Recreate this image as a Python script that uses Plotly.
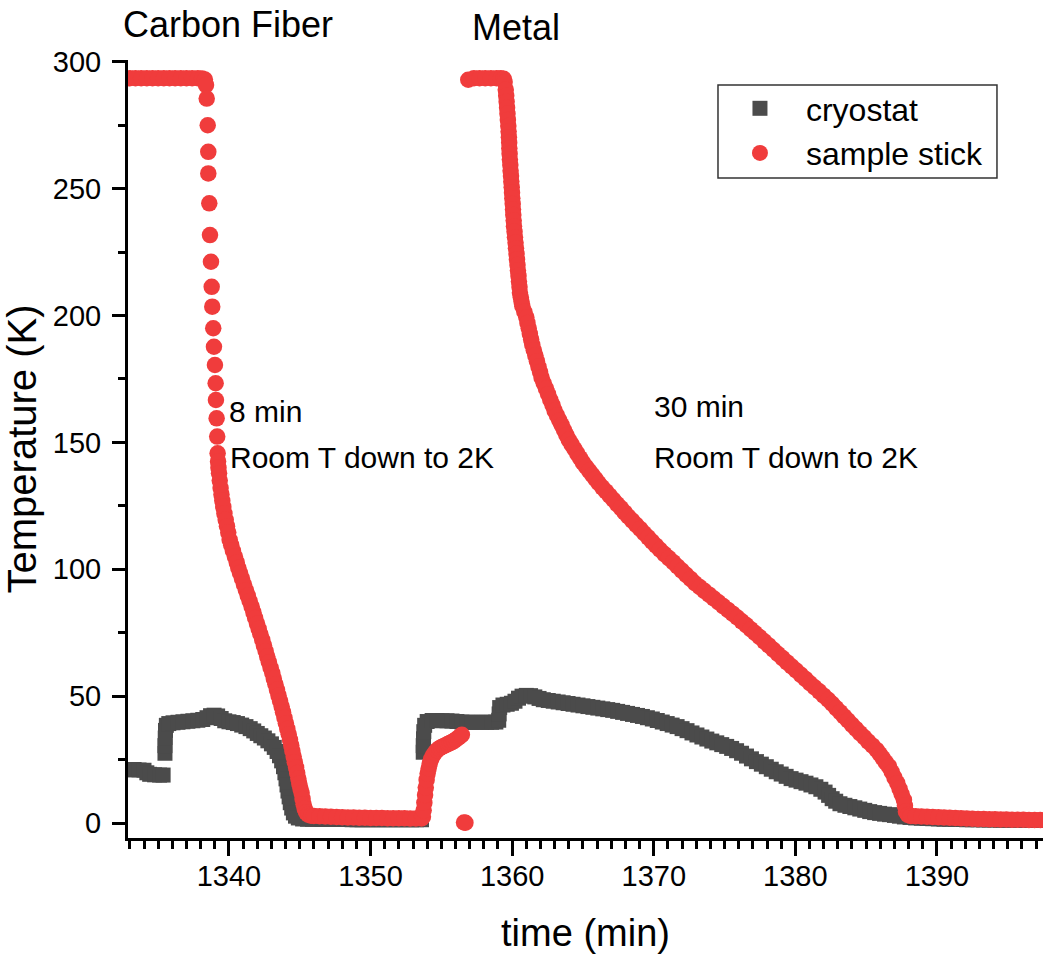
import plotly.graph_objects as go

# ---------------- data ----------------
# sample stick (red circles), in segments
red_cf_top_t = [1332.6, 1333.0, 1333.4, 1333.8, 1334.2, 1334.6, 1335.0, 1335.4, 1335.8, 1336.2,
                1336.6, 1337.0, 1337.4, 1337.8, 1338.1, 1338.3, 1338.38]
red_cf_top_T = [293.5, 293.5, 293.5, 293.5, 293.5, 293.5, 293.5, 293.5, 293.5, 293.5,
                293.5, 293.5, 293.5, 293.5, 293.4, 293.0, 290.8]

red_cf_dots_t = [1338.43, 1338.50, 1338.54, 1338.54, 1338.61, 1338.66, 1338.73, 1338.78, 1338.82,
                 1338.89, 1338.94, 1339.01, 1339.06, 1339.08, 1339.13, 1339.17, 1339.20]
red_cf_dots_T = [285.5, 275.0, 264.5, 256.0, 244.2, 231.7, 221.2, 211.3, 203.5,
                 195.0, 187.7, 180.5, 173.3, 166.7, 159.5, 152.3, 145.7]

red_cf_band_t = [1339.23, 1339.26, 1339.30, 1339.35, 1339.41, 1339.47, 1339.53, 1339.60, 1339.68,
                 1339.77, 1339.86, 1339.95, 1340.05, 1340.16, 1340.28, 1340.42, 1340.55, 1340.66,
                 1340.78, 1340.92, 1341.06, 1341.20, 1341.33, 1341.46, 1341.60, 1341.73, 1341.85,
                 1341.98, 1342.10, 1342.22, 1342.35, 1342.47, 1342.59, 1342.70, 1342.82, 1342.94,
                 1343.06, 1343.17, 1343.28, 1343.39, 1343.50, 1343.61, 1343.72, 1343.82, 1343.92,
                 1344.02, 1344.12, 1344.22, 1344.31, 1344.40, 1344.48, 1344.57, 1344.65, 1344.74,
                 1344.82, 1344.90, 1344.97, 1345.05, 1345.13, 1345.20, 1345.27, 1345.35, 1345.45,
                 1345.60, 1345.80]
red_cf_band_T = [142.5, 140.0, 137.8, 135.0, 132.0, 129.5, 127.0, 124.6, 122.0,
                 119.5, 117.0, 114.5, 111.6, 109.5, 107.3, 105.0, 102.7, 100.5,
                 98.5, 96.3, 94.0, 91.7, 89.6, 87.5, 85.3, 83.0, 80.8,
                 78.6, 76.5, 74.4, 72.2, 70.0, 67.8, 65.6, 63.4, 61.2,
                 59.1, 56.9, 54.7, 52.5, 50.3, 48.1, 45.9, 43.7, 41.5,
                 39.3, 37.1, 35.0, 32.8, 30.6, 28.4, 26.2, 24.0, 21.9,
                 19.7, 17.5, 15.5, 13.6, 11.8, 9.5, 7.4, 5.6, 4.2,
                 3.3, 2.9]

red_low_t = [1346.0, 1346.4, 1346.8, 1347.2, 1347.6, 1348.0, 1348.4, 1348.8, 1349.2, 1349.6,
             1350.0, 1350.4, 1350.8, 1351.2, 1351.6, 1352.0, 1352.4, 1352.8, 1353.2, 1353.6]
red_low_T = [2.8, 2.7, 2.6, 2.5, 2.4, 2.3, 2.2, 2.2, 2.1, 2.1,
             2.0, 2.0, 2.0, 1.9, 1.9, 1.9, 1.9, 1.8, 1.8, 1.8]

red_rise_t = [1353.70, 1353.75, 1353.80, 1353.85, 1353.90, 1353.96, 1354.03, 1354.10, 1354.18,
              1354.28, 1354.40, 1354.55, 1354.70, 1354.85, 1355.00, 1355.15, 1355.30, 1355.45,
              1355.60, 1355.75, 1355.90, 1356.05, 1356.20, 1356.35, 1356.45]
red_rise_T = [2.5, 5.0, 8.0, 11.0, 14.0, 17.0, 19.5, 21.5, 23.5,
              25.2, 26.6, 27.8, 28.7, 29.4, 29.9, 30.3, 30.7, 31.1,
              31.5, 31.9, 32.4, 33.0, 33.6, 34.3, 34.8]

red_zero_t = [1356.60, 1356.70]
red_zero_T = [0.2, 0.1]

red_mt_top_t = [1356.90, 1357.30, 1357.70, 1358.10, 1358.50, 1358.90, 1359.20, 1359.40, 1359.47]
red_mt_top_T = [292.9, 293.5, 293.5, 293.5, 293.5, 293.5, 293.5, 293.3, 292.0]

red_mt_drop_t = [1359.55, 1359.58, 1359.61, 1359.64, 1359.67, 1359.70, 1359.73, 1359.75, 1359.77,
                 1359.79, 1359.80, 1359.82, 1359.84, 1359.87, 1359.89, 1359.92, 1359.94, 1359.97,
                 1359.99, 1360.01, 1360.04, 1360.06, 1360.08, 1360.11, 1360.13, 1360.17, 1360.20,
                 1360.24, 1360.27, 1360.31, 1360.34, 1360.38, 1360.41, 1360.45, 1360.48, 1360.52,
                 1360.55, 1360.61, 1360.66, 1360.72, 1360.86, 1361.00, 1361.08, 1361.17, 1361.25,
                 1361.34, 1361.42, 1361.53, 1361.64, 1361.75, 1361.86, 1361.97, 1362.08, 1362.23,
                 1362.39, 1362.54, 1362.69, 1362.85, 1363.00, 1363.17, 1363.33, 1363.50, 1363.67,
                 1363.83, 1364.00, 1364.20, 1364.40, 1364.60, 1364.80, 1365.00, 1365.22, 1365.44,
                 1365.66, 1365.88, 1366.10, 1366.36, 1366.63, 1366.89, 1367.15, 1367.41, 1367.68,
                 1367.94, 1368.20, 1368.48, 1368.76, 1369.04, 1369.32, 1369.60, 1369.88, 1370.16,
                 1370.44, 1370.75, 1371.06, 1371.37, 1371.68, 1371.98, 1372.29, 1372.60, 1372.91,
                 1373.24, 1373.57, 1373.91, 1374.24, 1374.57, 1374.90, 1375.24, 1375.57, 1375.90,
                 1376.21, 1376.53, 1376.84, 1377.15, 1377.47, 1377.80, 1378.12, 1378.45, 1378.77,
                 1379.09, 1379.42, 1379.74, 1380.06, 1380.39, 1380.71, 1381.03, 1381.35, 1381.68,
                 1382.00, 1382.32, 1382.60, 1382.88, 1383.16, 1383.44, 1383.72, 1384.00, 1384.28,
                 1384.56, 1384.86, 1385.15, 1385.45, 1385.74, 1385.96, 1386.17, 1386.39, 1386.61,
                 1386.81, 1387.00, 1387.20, 1387.36, 1387.51, 1387.67, 1387.74, 1387.81, 1387.95,
                 1388.15]
red_mt_drop_T = [289.0, 286.6, 284.2, 281.9, 279.5, 277.1, 274.7, 272.5, 270.3,
                 268.1, 265.9, 263.7, 261.5, 259.3, 257.1, 255.0, 252.8, 250.6,
                 248.4, 246.2, 244.0, 241.8, 239.6, 237.4, 235.2, 233.0, 230.8,
                 228.7, 226.5, 224.3, 222.1, 219.9, 217.7, 215.6, 213.4, 211.2,
                 209.0, 207.2, 205.5, 203.7, 201.5, 199.3, 197.1, 195.0, 192.8,
                 190.6, 188.5, 186.3, 184.2, 182.0, 179.8, 177.7, 175.5, 173.3,
                 171.2, 169.0, 166.8, 164.7, 162.5, 160.6, 158.7, 156.8, 154.8,
                 152.9, 151.0, 149.2, 147.4, 145.6, 143.8, 142.0, 140.4, 138.8,
                 137.2, 135.6, 134.0, 132.3, 130.7, 129.0, 127.4, 125.7, 124.1,
                 122.4, 120.8, 119.2, 117.5, 115.9, 114.2, 112.6, 110.9, 109.3,
                 107.7, 106.0, 104.4, 102.8, 101.1, 99.5, 97.8, 96.2, 94.5,
                 93.0, 91.5, 90.0, 88.5, 87.0, 85.5, 84.0, 82.5, 81.0,
                 79.5, 78.0, 76.4, 74.9, 73.3, 71.6, 70.0, 68.3, 66.6,
                 65.0, 63.3, 61.7, 60.1, 58.4, 56.8, 55.1, 53.5, 51.9,
                 50.2, 48.6, 47.0, 45.3, 43.7, 42.0, 40.4, 38.7, 37.1,
                 35.4, 33.8, 32.1, 30.5, 28.8, 27.2, 25.6, 23.9, 22.3,
                 20.1, 17.9, 15.7, 13.5, 11.3, 9.1, 6.8, 4.5, 3.2,
                 2.8]

red_end_t = [1388.5, 1388.9, 1389.3, 1389.7, 1390.1, 1390.5, 1390.9, 1391.3, 1391.7, 1392.1,
             1392.5, 1392.9, 1393.3, 1393.7, 1394.1, 1394.5, 1394.9, 1395.3, 1395.7, 1396.1,
             1396.5, 1396.9, 1397.3, 1397.7]
red_end_T = [2.7, 2.6, 2.5, 2.4, 2.3, 2.2, 2.1, 2.0, 1.9, 1.8,
             1.7, 1.6, 1.6, 1.5, 1.5, 1.4, 1.4, 1.3, 1.3, 1.3,
             1.2, 1.2, 1.2, 1.2]

# cryostat (dark grey squares), in segments
gray_a_t = [1332.6, 1332.95, 1333.3, 1333.65, 1334.0, 1334.2, 1334.4, 1334.75, 1335.1, 1335.35]
gray_a_T = [21.0, 21.0, 21.1, 20.9, 20.8, 19.8, 19.2, 19.0, 18.9, 18.9]

gray_b_t = [1335.48, 1335.48, 1335.50, 1335.52, 1335.58, 1335.75, 1336.05, 1336.40, 1336.75,
            1337.10, 1337.45, 1337.80, 1338.15, 1338.45, 1338.70, 1338.95, 1339.20, 1339.45,
            1339.70, 1340.00, 1340.30, 1340.60, 1340.90, 1341.20, 1341.50, 1341.75, 1342.00,
            1342.25, 1342.50, 1342.75, 1343.00, 1343.20, 1343.40, 1343.57, 1343.72, 1343.85,
            1343.95, 1344.03, 1344.10, 1344.17, 1344.25, 1344.33, 1344.43, 1344.55, 1344.70,
            1344.90]
gray_b_T = [27.5, 30.5, 33.5, 36.5, 38.5, 39.2, 39.5, 39.7, 39.9,
            40.1, 40.3, 40.5, 40.8, 41.5, 42.3, 42.5, 42.2, 41.2,
            40.3, 39.9, 39.6, 39.2, 38.6, 38.0, 37.2, 36.3, 35.3,
            34.4, 33.5, 32.4, 31.2, 29.8, 28.2, 26.5, 24.5, 22.2,
            19.8, 17.4, 15.0, 12.6, 10.3, 8.0, 5.9, 4.0, 2.7,
            2.0]

gray_c_t = [1345.2, 1345.55, 1345.9, 1346.25, 1346.6, 1346.95, 1347.3, 1347.65, 1348.0, 1348.35,
            1348.7, 1349.05, 1349.4, 1349.75, 1350.1, 1350.45, 1350.8, 1351.15, 1351.5, 1351.85,
            1352.2, 1352.55, 1352.9, 1353.25, 1353.6]
gray_c_T = [1.6, 1.5, 1.5, 1.5, 1.4, 1.4, 1.4, 1.4, 1.4, 1.4,
            1.3, 1.3, 1.3, 1.3, 1.3, 1.3, 1.3, 1.3, 1.3, 1.3,
            1.3, 1.3, 1.3, 1.3, 1.3]

gray_d_t = [1353.72, 1353.72, 1353.74, 1353.76, 1353.82, 1354.00, 1354.35, 1354.70, 1355.05,
            1355.40, 1355.75, 1356.10, 1356.45, 1356.80, 1357.15, 1357.50, 1357.85, 1358.20,
            1358.55, 1358.85, 1359.05, 1359.08, 1359.12, 1359.35, 1359.65, 1359.95, 1360.20,
            1360.45, 1360.70, 1361.00, 1361.30, 1361.60, 1361.90, 1362.20, 1362.55, 1362.90,
            1363.25, 1363.60, 1363.95, 1364.30, 1364.65, 1365.00, 1365.35, 1365.70, 1366.05,
            1366.40, 1366.75, 1367.10, 1367.45, 1367.80, 1368.15, 1368.50, 1368.85, 1369.20,
            1369.55, 1369.90, 1370.25, 1370.60, 1370.95, 1371.30, 1371.65, 1372.00, 1372.35,
            1372.70, 1373.05, 1373.40, 1373.75, 1374.10, 1374.45, 1374.80, 1375.15, 1375.50,
            1375.85, 1376.20, 1376.55, 1376.90, 1377.25, 1377.60, 1377.95, 1378.30, 1378.65,
            1379.00, 1379.35, 1379.70, 1380.05, 1380.40, 1380.75, 1381.10, 1381.45, 1381.80,
            1382.10, 1382.35, 1382.60, 1382.85, 1383.15, 1383.50, 1383.85, 1384.20, 1384.55,
            1384.90, 1385.25, 1385.60, 1385.95, 1386.30, 1386.65, 1387.00, 1387.35, 1387.70]
gray_d_T = [27.9, 30.5, 33.2, 36.0, 38.5, 40.0, 40.4, 40.4, 40.3,
            40.3, 40.2, 40.0, 39.8, 39.7, 39.7, 39.7, 39.7, 39.7,
            39.7, 39.8, 40.5, 43.0, 45.5, 46.5, 46.8, 47.2, 48.0,
            49.2, 50.0, 50.3, 50.2, 49.7, 49.1, 48.6, 48.3, 48.0,
            47.7, 47.4, 47.1, 46.8, 46.5, 46.2, 45.9, 45.6, 45.3,
            45.0, 44.7, 44.4, 44.0, 43.6, 43.2, 42.8, 42.4, 42.0,
            41.5, 41.0, 40.4, 39.8, 39.2, 38.6, 38.0, 37.2, 36.4,
            35.5, 34.7, 33.9, 33.1, 32.3, 31.6, 30.9, 30.2, 29.4,
            28.5, 27.5, 26.4, 25.3, 24.2, 23.2, 22.2, 21.2, 20.2,
            19.3, 18.4, 17.5, 16.9, 16.3, 15.7, 15.0, 14.3, 13.3,
            12.2, 10.9, 9.6, 8.6, 7.6, 7.0, 6.5, 6.0, 5.5,
            5.0, 4.5, 4.1, 3.8, 3.5, 3.3, 3.0, 2.7, 2.4]

gray_e_t = [1388.1, 1388.5, 1388.9, 1389.3, 1389.7, 1390.1, 1390.5, 1390.9, 1391.3, 1391.7,
            1392.1, 1392.5, 1392.9, 1393.3, 1393.7, 1394.1, 1394.5, 1394.9, 1395.3, 1395.7,
            1396.1, 1396.5, 1396.9, 1397.3, 1397.7]
gray_e_T = [2.2, 2.0, 1.9, 1.8, 1.7, 1.6, 1.5, 1.5, 1.4, 1.4,
            1.3, 1.3, 1.3, 1.2, 1.2, 1.2, 1.1, 1.1, 1.1, 1.1,
            1.0, 1.0, 1.0, 1.0, 1.0]

cryo_t = gray_a_t + gray_b_t + gray_c_t + gray_d_t + gray_e_t
cryo_T = gray_a_T + gray_b_T + gray_c_T + gray_d_T + gray_e_T
stick_t = (red_cf_top_t + red_cf_dots_t + red_cf_band_t + red_low_t + red_rise_t + red_zero_t
           + red_mt_top_t + red_mt_drop_t + red_end_t)
stick_T = (red_cf_top_T + red_cf_dots_T + red_cf_band_T + red_low_T + red_rise_T + red_zero_T
           + red_mt_top_T + red_mt_drop_T + red_end_T)

x_tick_vals = [1340, 1350, 1360, 1370, 1380, 1390]
y_tick_vals = [0, 50, 100, 150, 200, 250, 300]

# ---------------- figure ----------------
FONT = "Liberation Sans, Arial, Helvetica, sans-serif"
RED = "#f03c3c"
GRAY = "#4b4b4b"

fig = go.Figure()
fig.add_trace(go.Scatter(x=cryo_t, y=cryo_T, mode="markers", name="cryostat",
                         marker=dict(symbol="square", size=15, color=GRAY, line=dict(width=0))))
fig.add_trace(go.Scatter(x=stick_t, y=stick_T, mode="markers", name="sample stick",
                         marker=dict(symbol="circle", size=16.5, color=RED, line=dict(width=0))))

fig.update_layout(
    width=1043, height=959,
    margin=dict(l=128, r=0, t=60, b=121),
    paper_bgcolor="white", plot_bgcolor="white",
    font=dict(family=FONT, color="black"),
    xaxis=dict(
        range=[1332.87, 1397.49], showgrid=False, zeroline=False,
        showline=True, linecolor="black", linewidth=3,
        tickmode="array", tickvals=x_tick_vals,
        ticks="outside", ticklen=15, tickwidth=3, tickcolor="black",
        ticklabelstandoff=-5,
        tickfont=dict(size=29, family=FONT, color="black"),
        minor=dict(dtick=1, tick0=1340, ticks="outside", ticklen=8, tickwidth=2.5,
                   tickcolor="black", showgrid=False),
        title=dict(text="time (min)", font=dict(size=38, family=FONT, color="black"), standoff=29),
    ),
    yaxis=dict(
        range=[-5.9, 300.7], showgrid=False, zeroline=False,
        showline=True, linecolor="black", linewidth=3,
        tickmode="array", tickvals=y_tick_vals,
        ticks="outside", ticklen=13, tickwidth=3, tickcolor="black",
        ticklabelstandoff=5,
        tickfont=dict(size=29, family=FONT, color="black"),
        minor=dict(dtick=25, tick0=0, ticks="outside", ticklen=7, tickwidth=2.5,
                   tickcolor="black", showgrid=False),
        title=dict(text="Temperature (K)", font=dict(size=40, family=FONT, color="black"), standoff=4),
    ),
    legend=dict(x=0.6404, y=0.973, xanchor="left", yanchor="top",
                bgcolor="rgba(0,0,0,0)", borderwidth=0,
                font=dict(size=32, family=FONT, color="black"),
                itemwidth=82, tracegroupgap=0),
    showlegend=True,
)

# legend frame (paper coordinates)
fig.add_shape(type="rect", xref="paper", yref="paper",
              x0=0.6448, x1=0.9497, y0=0.8483, y1=0.9679,
              line=dict(color="#333333", width=1.5), fillcolor="white", layer="below")

annos = [
    dict(text="Carbon Fiber", x=1339.93, y=1.045, xref="x", yref="paper",
         xanchor="center", yanchor="middle", font=dict(size=36)),
    dict(text="Metal", x=1360.27, y=1.042, xref="x", yref="paper",
         xanchor="center", yanchor="middle", font=dict(size=36)),
    dict(text="8 min", x=1339.85, y=162, xref="x", yref="y",
         xanchor="left", yanchor="middle", font=dict(size=30)),
    dict(text="Room T down to 2K", x=1339.9, y=144, xref="x", yref="y",
         xanchor="left", yanchor="middle", font=dict(size=30)),
    dict(text="30 min", x=1369.88, y=164, xref="x", yref="y",
         xanchor="left", yanchor="middle", font=dict(size=30)),
    dict(text="Room T down to 2K", x=1369.88, y=144, xref="x", yref="y",
         xanchor="left", yanchor="middle", font=dict(size=30)),
]
for a in annos:
    a["showarrow"] = False
    a["font"]["family"] = FONT
    a["font"]["color"] = "black"
    fig.add_annotation(**a)

fig.write_html("out.html",
               config={"displayModeBar": False},
               post_script="document.body.style.margin='0px';document.documentElement.style.margin='0px';")
